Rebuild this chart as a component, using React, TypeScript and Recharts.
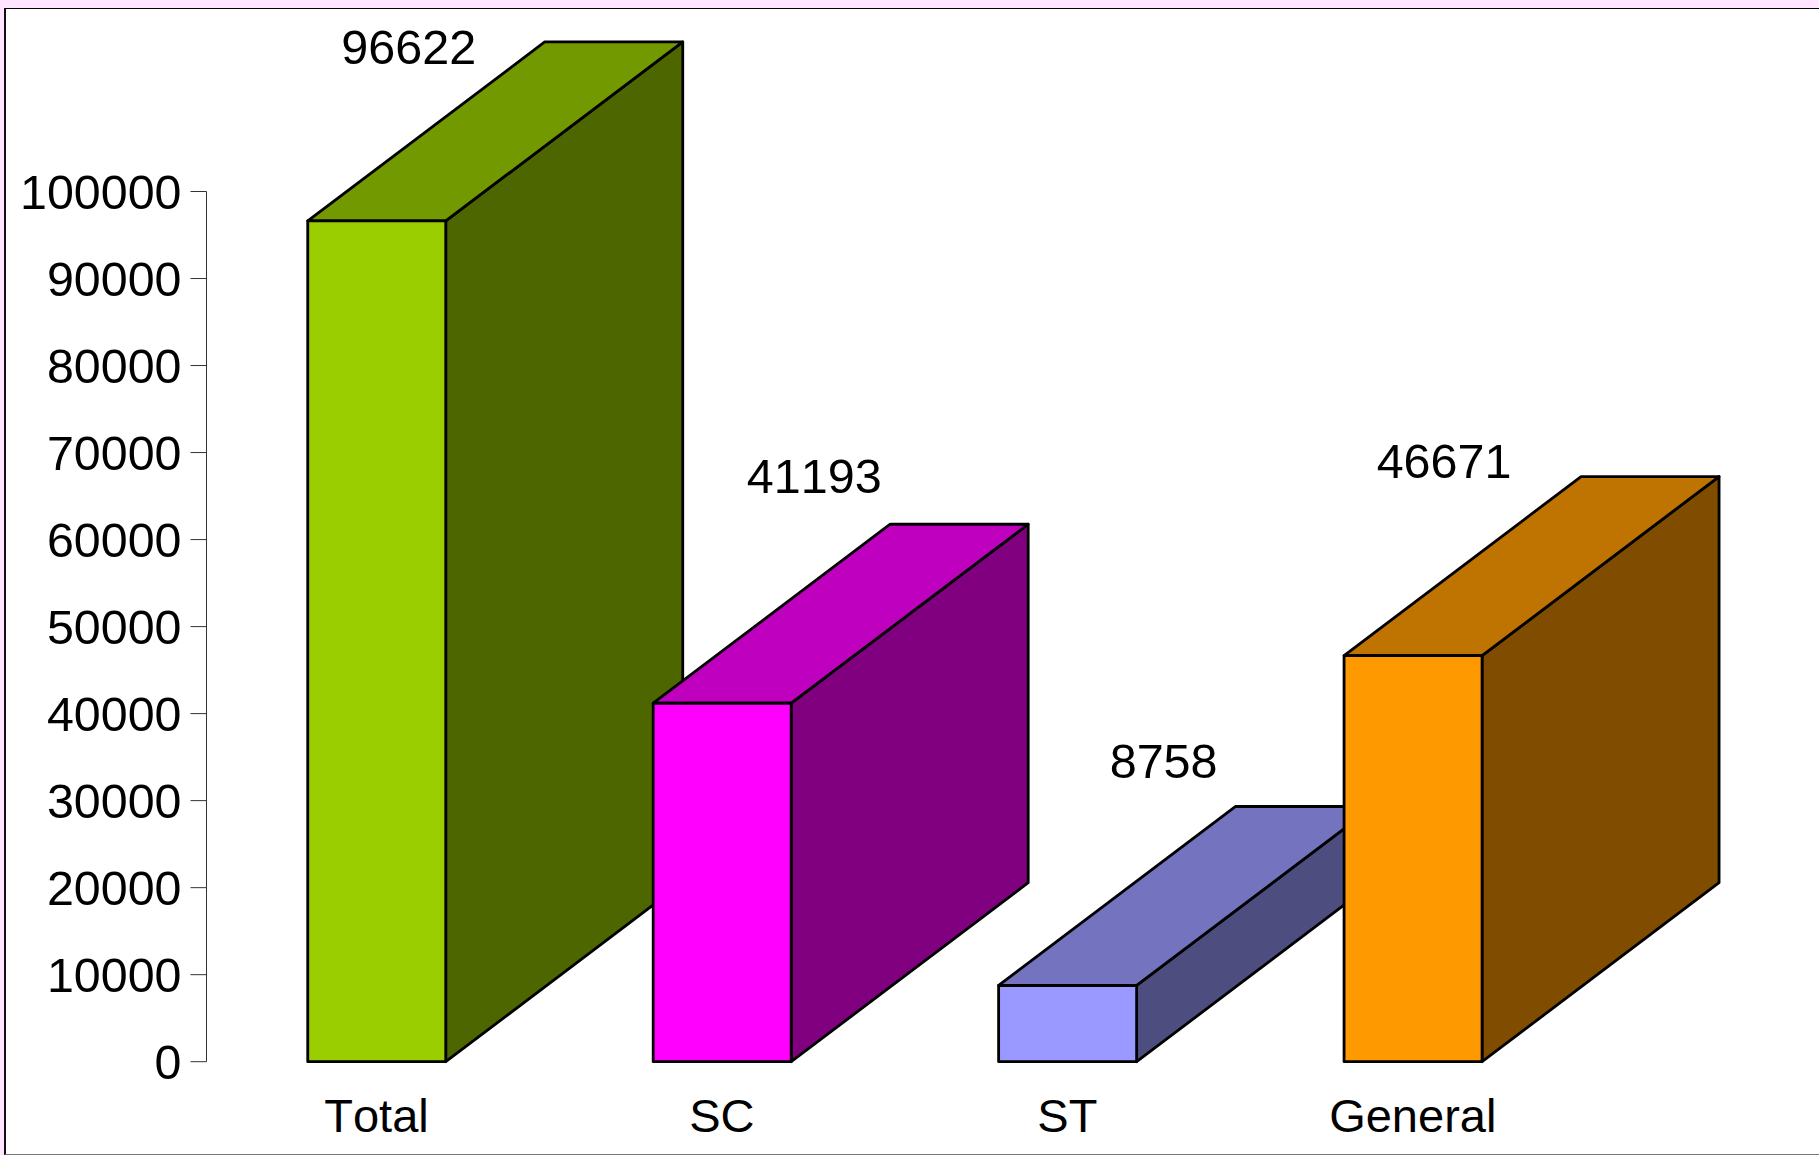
import { Bar, BarChart, LabelList, XAxis, YAxis } from "recharts";

const categories = ["Total", "SC", "ST", "General"];
const counts = [96622, 41193, 8758, 46671];
const yTicks = [0, 10000, 20000, 30000, 40000, 50000, 60000, 70000, 80000, 90000, 100000];

const frontColors = ["#9BCE00", "#FF00FF", "#9999FF", "#FF9900"];
const topColors = ["#739900", "#BF00BF", "#7373BF", "#BF7300"];
const sideColors = ["#4D6600", "#800080", "#4D4D80", "#804D00"];

// the value labels sit at hand placed spots in the original
const labelNudgeX = [32, 92, 96, 31];
const labelNudgeY = [-157, -210, -207, -178];

const DEPTH_X = 237;
const DEPTH_Y = 179;
const FONT = "'Liberation Sans', Arial, sans-serif";

const data = categories.map((name, i) => ({ name, count: counts[i] }));

function Box3D(props: any) {
  const { x, y, width, height, index } = props;
  const r = x + width;
  const b = y + height;
  const edge = { stroke: "#000", strokeWidth: 2.8, strokeLinejoin: "round" as const };
  return (
    <g>
      <polygon
        points={`${r},${y} ${r + DEPTH_X},${y - DEPTH_Y} ${r + DEPTH_X},${b - DEPTH_Y} ${r},${b}`}
        fill={sideColors[index]}
        {...edge}
      />
      <polygon
        points={`${x},${y} ${x + DEPTH_X},${y - DEPTH_Y} ${r + DEPTH_X},${y - DEPTH_Y} ${r},${y}`}
        fill={topColors[index]}
        {...edge}
      />
      <rect x={x} y={y} width={width} height={height} fill={frontColors[index]} {...edge} />
    </g>
  );
}

function ValueLabel(props: any) {
  const { x, y, width, value, index } = props;
  return (
    <text
      x={x + width / 2 + labelNudgeX[index]}
      y={y + labelNudgeY[index]}
      textAnchor="middle"
      fontSize={48.5}
      fontFamily={FONT}
      fill="#000"
    >
      {value}
    </text>
  );
}

export default function App() {
  return (
    <div
      style={{
        position: "absolute",
        left: 0,
        top: 0,
        width: 1819,
        height: 1155,
        overflow: "hidden",
        background: "#FFE5FF",
        fontKerning: "none",
      }}
    >
      <div
        style={{
          position: "absolute",
          left: 4,
          top: 7,
          width: 1830,
          height: 1148,
          boxSizing: "border-box",
          background: "#fff",
          borderLeft: "2px solid #111",
          borderTop: "2px solid #000",
          borderBottom: "1px solid #777",
        }}
      />
      <div style={{ position: "absolute", left: 0, top: 0, width: 1819, height: 7.5, background: "#FFE5FF" }} />
      <div style={{ position: "absolute", left: 0, top: 0 }}>
        <BarChart
          width={1819}
          height={1155}
          data={data}
          margin={{ top: 191.5, right: 233.5, bottom: 0, left: 0 }}
        >
          <XAxis
            dataKey="name"
            height={93.3}
            axisLine={false}
            tickLine={false}
            tickMargin={31}
            padding={{ left: -2.75, right: 0 }}
            tick={{ fontSize: 47, fontFamily: FONT, fill: "#000" }}
            interval={0}
          />
          <YAxis
            width={206.5}
            domain={[0, 100000]}
            ticks={yTicks}
            interval={0}
            tickSize={16}
            tickMargin={9}
            axisLine={{ stroke: "#333", strokeWidth: 1 }}
            tickLine={{ stroke: "#333", strokeWidth: 1 }}
            tick={{ fontSize: 48.4, fontFamily: FONT, fill: "#000" }}
          />
          <Bar dataKey="count" barSize={138} shape={Box3D} isAnimationActive={false}>
            <LabelList dataKey="count" content={ValueLabel} />
          </Bar>
        </BarChart>
      </div>
    </div>
  );
}
